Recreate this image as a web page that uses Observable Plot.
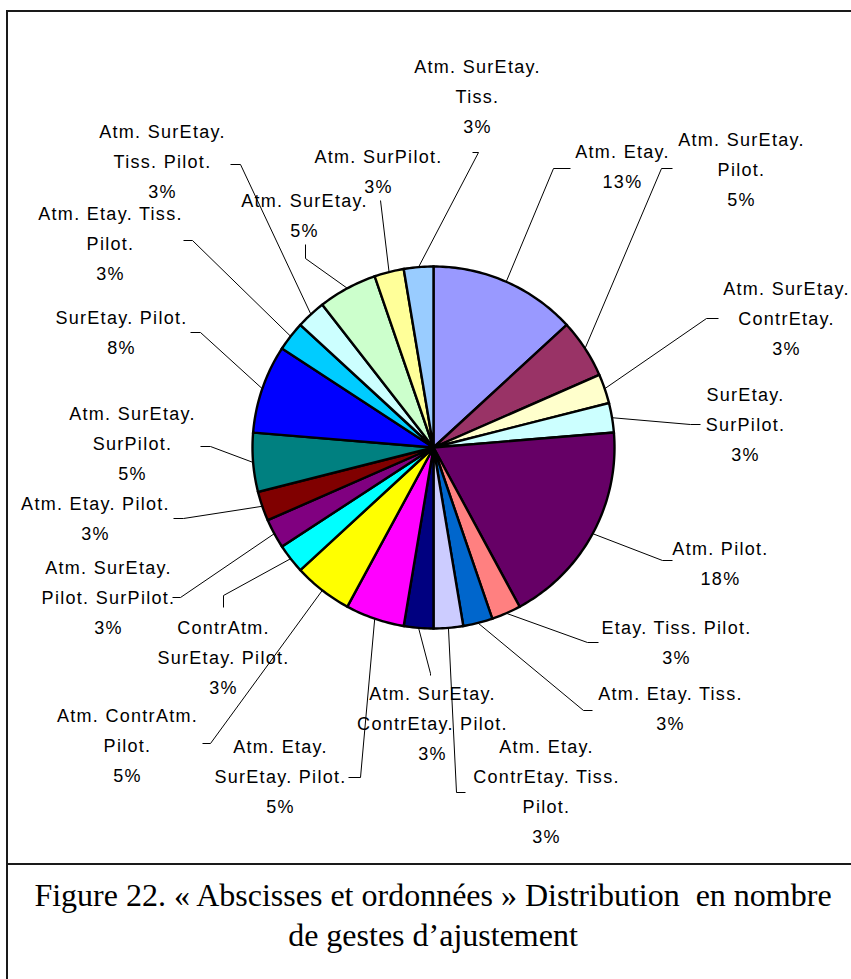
<!DOCTYPE html>
<html>
<head>
<meta charset="utf-8">
<script src="https://cdn.jsdelivr.net/npm/d3@7"></script>
<script src="https://cdn.jsdelivr.net/npm/@observablehq/plot@0.6"></script>
<style>
  html, body { margin: 0; padding: 0; background: #fff; }
  body { width: 851px; height: 979px; overflow: hidden; position: relative; }
  #chart { position: absolute; left: 0; top: 0; }
  #chart svg text { letter-spacing: 1.3px; }
  .rule { position: absolute; background: #1a1a1a; }
  #caption {
    position: absolute; left: 8px; top: 875px; width: 850px;
    text-align: center; white-space: pre-wrap;
    font-family: "Liberation Serif", "Times New Roman", serif;
    font-size: 32px; line-height: 40px; color: #000;
  }
</style>
</head>
<body>
<div class="rule" style="left:6px;top:10px;width:845px;height:2px"></div>
<div class="rule" style="left:6px;top:10px;width:2px;height:969px"></div>
<div class="rule" style="left:6px;top:863px;width:845px;height:2px"></div>
<div id="chart"></div>
<div id="caption">Figure 22. « Abscisses et ordonnées » Distribution  en nombre
de gestes d’ajustement</div>
<script>
// ---- data ----
const categories = [
  "Atm. Etay.", "Atm. SurEtay. Pilot.", "Atm. SurEtay. ContrEtay.", "SurEtay. SurPilot.",
  "Atm. Pilot.", "Etay. Tiss. Pilot.", "Atm. Etay. Tiss.", "Atm. Etay. ContrEtay. Tiss. Pilot.",
  "Atm. SurEtay. ContrEtay. Pilot.", "Atm. Etay. SurEtay. Pilot.", "Atm. ContrAtm. Pilot.",
  "ContrAtm. SurEtay. Pilot.", "Atm. SurEtay. Pilot. SurPilot.", "Atm. Etay. Pilot.",
  "Atm. SurEtay. SurPilot.", "SurEtay. Pilot.", "Atm. Etay. Tiss. Pilot.",
  "Atm. SurEtay. Tiss. Pilot.", "Atm. SurEtay.", "Atm. SurPilot.", "Atm. SurEtay. Tiss."
];
const counts = [5, 2, 1, 1, 7, 1, 1, 1, 1, 2, 2, 1, 1, 1, 2, 3, 1, 1, 2, 1, 1];
const percentLabels = ["13%", "5%", "3%", "3%", "18%", "3%", "3%", "3%", "3%", "5%", "5%",
  "3%", "3%", "3%", "5%", "8%", "3%", "3%", "5%", "3%", "3%"];
const colors = [
  "#9999FF", "#993366", "#FFFFCC", "#CCFFFF", "#660066", "#FF8080", "#0066CC", "#CCCCFF",
  "#000080", "#FF00FF", "#FFFF00", "#00FFFF", "#800080", "#800000", "#008080", "#0000FF",
  "#00CCFF", "#CCFFFF", "#CCFFCC", "#FFFF99", "#99CCFF"
];

// ---- layout (label wrapping and placement, in units where the pie radius is R) ----
const R = 181;
const wrapped = [
  "Atm. Etay.", "Atm. SurEtay.\nPilot.", "Atm. SurEtay.\nContrEtay.", "SurEtay.\nSurPilot.",
  "Atm. Pilot.", "Etay. Tiss. Pilot.", "Atm. Etay. Tiss.", "Atm. Etay.\nContrEtay. Tiss.\nPilot.",
  "Atm. SurEtay.\nContrEtay. Pilot.", "Atm. Etay.\nSurEtay. Pilot.", "Atm. ContrAtm.\nPilot.",
  "ContrAtm.\nSurEtay. Pilot.", "Atm. SurEtay.\nPilot. SurPilot.", "Atm. Etay. Pilot.",
  "Atm. SurEtay.\nSurPilot.", "SurEtay. Pilot.", "Atm. Etay. Tiss.\nPilot.",
  "Atm. SurEtay.\nTiss. Pilot.", "Atm. SurEtay.", "Atm. SurPilot.", "Atm. SurEtay.\nTiss."
];
// [labelX, labelY, elbowX, elbowY, endX, endY] relative to pie centre
const place = [
  [189, -284, 120, -279, 137, -279],
  [308, -281, 228, -279, 239, -279],
  [353, -132, 273, -129, 285, -129],
  [312, -26, 257, -23, 267, -23],
  [287, 113, 229, 113, 239, 113],
  [243, 192, 154, 195, 165, 195],
  [237, 258, 150, 263, 159, 263],
  [113, 341, 23, 345, 32, 345],
  [-1, 273, -3, 226, -3, 228],
  [-153, 326, -73, 330, -85, 330],
  [-306, 295, -223, 296, -231, 296],
  [-210, 207, -210, 148, -210, 160],
  [-325, 147, -253, 150, -261, 150],
  [-338, 68, -250, 71, -260, 71],
  [-301, -7, -223, -1, -233, -1],
  [-312, -118, -233, -115, -243, -115],
  [-323, -207, -241, -207, -250, -207],
  [-271, -289, -193, -283, -203, -283],
  [-129, -235, -128, -189, -128, -203],
  [-55, -279, -53, -247, -53, -247],
  [44, -354, 45, -295, 39, -295]
];

const arcs = d3.pie().sort(null).value(d => d)(counts);

const slices = [];
arcs.forEach((a, i) => {
  const k = categories[i];
  slices.push({k, x: 0, y: 0});
  const n = Math.max(4, Math.ceil((a.endAngle - a.startAngle) / (Math.PI / 180)));
  for (let j = 0; j <= n; j++) {
    const t = a.startAngle + (a.endAngle - a.startAngle) * j / n;
    slices.push({k, x: R * Math.sin(t), y: -R * Math.cos(t)});
  }
  slices.push({k, x: 0, y: 0});
});

const leaders = [];
arcs.forEach((a, i) => {
  const k = categories[i];
  const m = (a.startAngle + a.endAngle) / 2;
  const p = place[i];
  leaders.push({k, x: p[4], y: p[5]});
  leaders.push({k, x: p[2], y: p[3]});
  leaders.push({k, x: R * Math.sin(m), y: -R * Math.cos(m)});
});

const labels = categories.map((k, i) => ({
  k, text: wrapped[i] + "\n" + percentLabels[i], x: place[i][0], y: place[i][1]
}));

const chart = Plot.plot({
  width: 851,
  height: 864,
  margin: 0,
  style: {background: "transparent", overflow: "visible"},
  x: {domain: [-433, 418], axis: null},
  y: {domain: [-447, 417], reverse: true, axis: null},
  color: {domain: categories, range: colors},
  marks: [
    Plot.line(slices, {x: "x", y: "y", z: "k", fill: "k", stroke: "#000", strokeWidth: 2.4,
      strokeLinejoin: "miter", strokeMiterlimit: 4}),
    Plot.line(leaders, {x: "x", y: "y", z: "k", stroke: "#000", strokeWidth: 1,
      strokeLinejoin: "miter", strokeLinecap: "butt"}),
    Plot.text(labels, {x: "x", y: "y", text: "text", fill: "#000", fontSize: 18,
      lineHeight: 1.65, fontFamily: "'Liberation Sans', Arial, sans-serif"})
  ]
});
document.getElementById("chart").appendChild(chart);
</script>
</body>
</html>
